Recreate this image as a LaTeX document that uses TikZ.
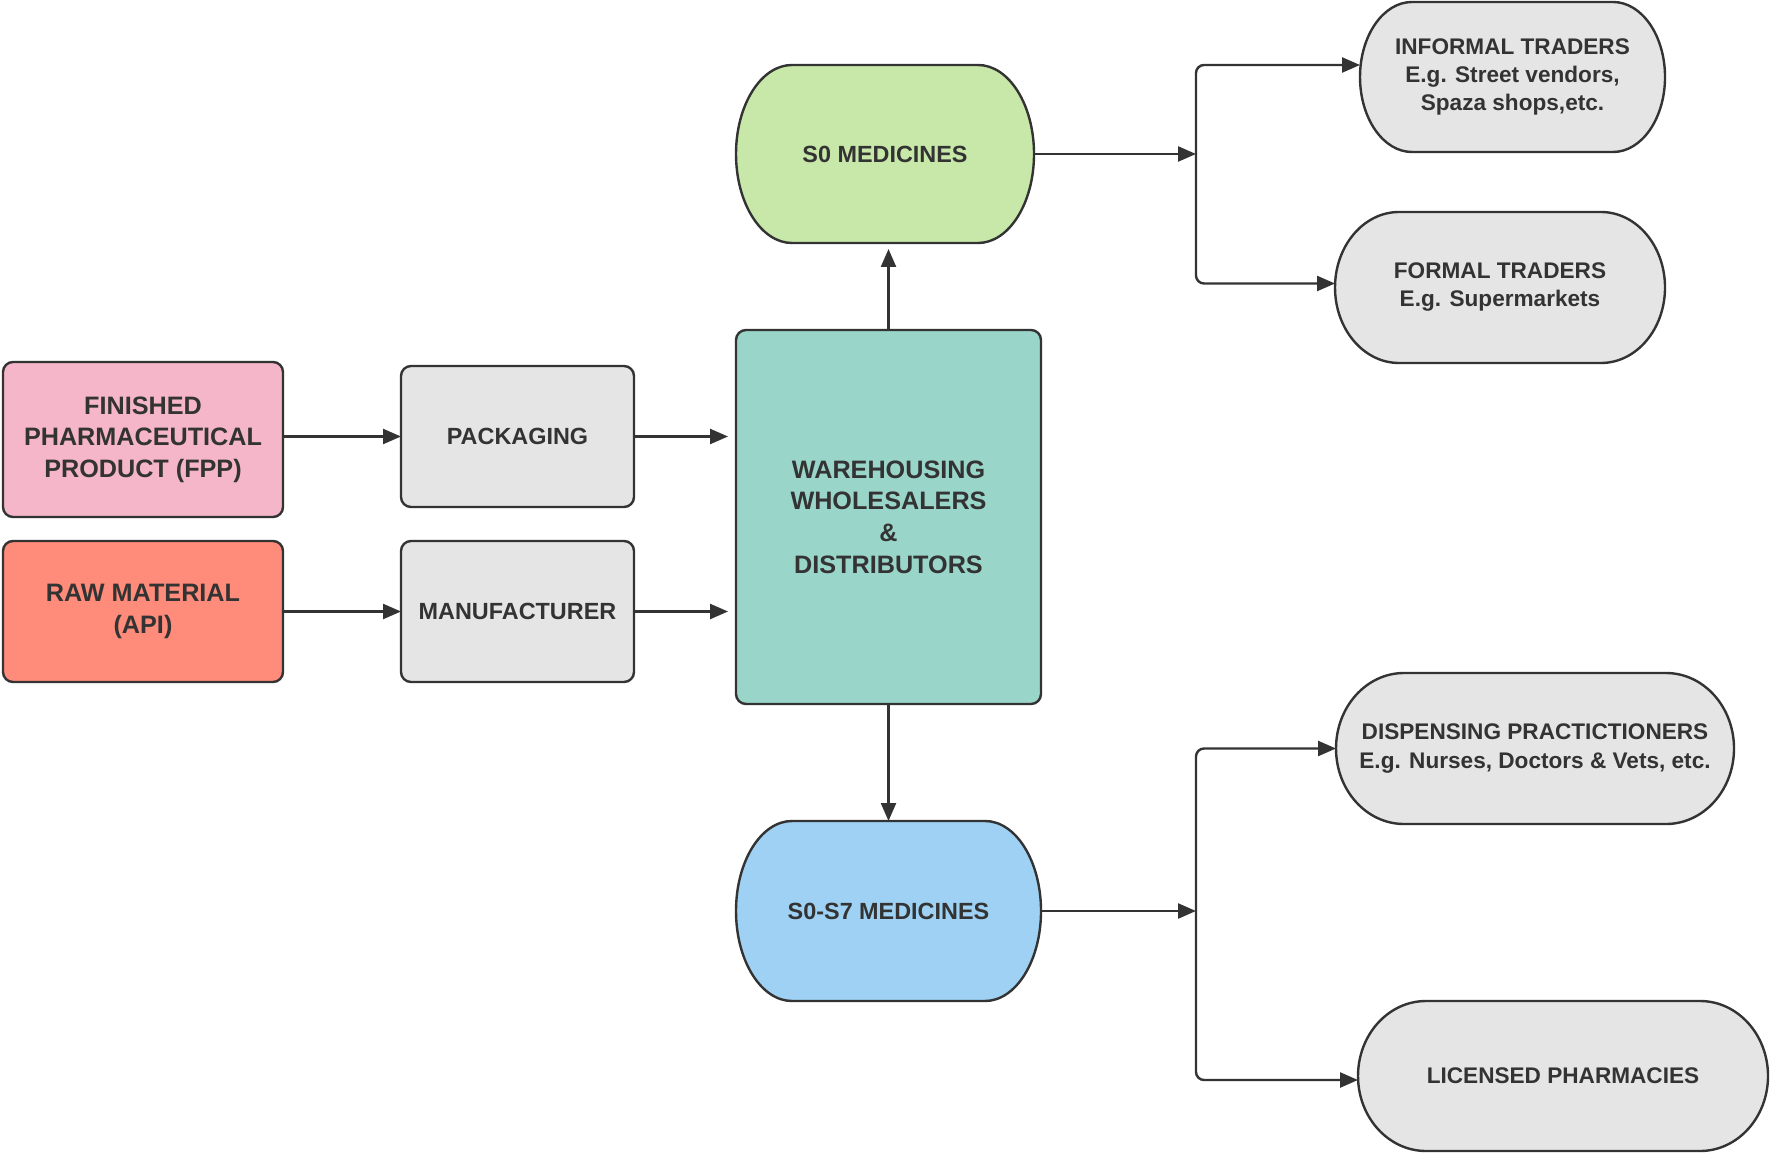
\documentclass[tikz,border=0pt]{standalone}
\usepackage{fontspec}
\setmainfont{Liberation Sans}
\usetikzlibrary{arrows.meta,calc,backgrounds}
\definecolor{lc}{HTML}{333333}
\definecolor{tc}{HTML}{333333}
\definecolor{pinkc}{HTML}{F4B6C8}
\definecolor{redc}{HTML}{FF8B7A}
\definecolor{grayc}{HTML}{E5E5E5}
\definecolor{tealc}{HTML}{9AD5CA}
\definecolor{greenc}{HTML}{C7E8A9}
\definecolor{bluec}{HTML}{9ED1F3}
\newcommand\pillpath[3]{%
  \filldraw[fill=#3,draw=lc,line width=1.2pt] let \p1=(#1.north west), \p2=(#1.south east), \n1={abs(\y1-\y2)/2} in
    (\x1+#2,\y1) -- (\x2-#2,\y1) arc[start angle=90,end angle=-90,x radius=#2,y radius=\n1]
    -- (\x1+#2,\y2) arc[start angle=270,end angle=90,x radius=#2,y radius=\n1] -- cycle;}
\begin{document}
\begin{tikzpicture}[x=0.5pt,y=-0.5pt,
  base/.style={inner sep=2pt, outer sep=0pt, align=center, text=tc},
  rbox/.style={base, draw=lc, line width=1.2pt, rounded corners=5pt},
  pill/.style={base},
  fA/.style={font=\bfseries\fontsize{12.6}{15.8}\selectfont},
  fB/.style={font=\bfseries\fontsize{11.7}{14.5}\selectfont},
  fC/.style={font=\bfseries\fontsize{11.3}{14}\selectfont},
  arr/.style={draw=lc, line width=1.2pt, -{Triangle[length=9pt,width=7.5pt]}}]
\useasboundingbox (0,0) rectangle (1770,1154);
% left boxes
\node[rbox, fA, fill=pinkc, minimum width=140pt, minimum height=77.5pt] (fpp) at (143,439.5) {FINISHED\\PHARMACEUTICAL\\PRODUCT (FPP)};
\node[rbox, fA, fill=redc, minimum width=140pt, minimum height=70.5pt] (raw) at (143,611.5) {RAW MATERIAL\\(API)};
\node[rbox, fB, fill=grayc, minimum width=116.5pt, minimum height=70.5pt] (pack) at (517.5,436.5) {PACKAGING};
\node[rbox, fB, fill=grayc, minimum width=116.5pt, minimum height=70.5pt] (manu) at (517.5,611.5) {MANUFACTURER};
\node[rbox, fA, fill=tealc, minimum width=152.5pt, minimum height=187pt] (ware) at (888.5,517) {WAREHOUSING\\WHOLESALERS\\\&\\DISTRIBUTORS};
% pills
\node[pill, fB, minimum width=149pt, minimum height=89pt] (s0) at (885,154) {S0 MEDICINES};
\node[pill, fB, minimum width=152.5pt, minimum height=90pt] (s07) at (888.5,911) {S0-S7 MEDICINES};
\node[pill, fC, minimum width=152.5pt, minimum height=75pt] (informal) at (1512.5,77) {INFORMAL TRADERS\\E.g. Street vendors,\\Spaza shops,etc.};
\node[pill, fC, minimum width=165pt, minimum height=75.5pt] (formal) at (1500,287.5) {FORMAL TRADERS\\E.g. Supermarkets};
\node[pill, fC, minimum width=199pt, minimum height=75.5pt] (disp) at (1535,748.5) {DISPENSING PRACTICTIONERS\\E.g. Nurses, Doctors \& Vets, etc.};
\node[pill, fC, minimum width=205pt, minimum height=75pt] (lic) at (1563,1076) {LICENSED PHARMACIES};
\begin{pgfonlayer}{background}
\fill[white] (0,0) rectangle (1770,1154);
\pillpath{s0}{28pt}{greenc}
\pillpath{s07}{28pt}{bluec}
\pillpath{informal}{26pt}{grayc}
\pillpath{formal}{32pt}{grayc}
\pillpath{disp}{34pt}{grayc}
\pillpath{lic}{34pt}{grayc}
\end{pgfonlayer}
% connectors
\coordinate (j1) at (1196,154);
\coordinate (j2) at (1196,911);
\draw[arr] (fpp.east |- pack.west) -- (pack.west);
\draw[arr, shorten >=4pt] (pack.east) -- (pack.east -| ware.west);
\draw[arr] (raw.east) -- (manu.west);
\draw[arr, shorten >=4pt] (manu.east) -- (manu.east -| ware.west);
\draw[arr, shorten >=3pt] (ware.north) -- (ware.north |- s0.south);
\draw[arr] (ware.south) -- (ware.south |- s07.north);
\draw[arr] (s0.east) -- (s0.east -| j1);
\draw[arr, rounded corners=4pt] (j1) |- ($(informal.west)+(0,-12)$);
\draw[arr, rounded corners=4pt] (j1) |- ($(formal.west)+(0,-4)$);
\draw[arr] (s07.east) -- (s07.east -| j2);
\draw[arr, rounded corners=4pt] (j2) |- (disp.west);
\draw[arr, rounded corners=4pt] (j2) |- ($(lic.west)+(0,4)$);
\end{tikzpicture}
\end{document}
